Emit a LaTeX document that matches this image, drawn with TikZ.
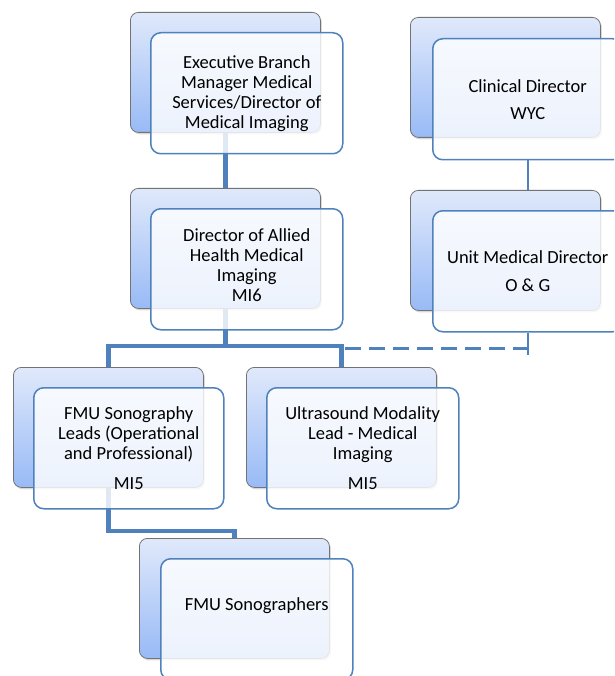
\documentclass[tikz,border=0pt]{standalone}
\usepackage{fontspec}
\setmainfont{Carlito}
\usepackage{tikz}
\usetikzlibrary{positioning, shadows, backgrounds, calc}

\definecolor{linkblue}{RGB}{79,129,189}
\definecolor{shadetop}{RGB}{224,233,251}
\definecolor{shadebot}{RGB}{152,186,246}
\newcommand\orgfont{\fontsize{18.5}{20}\selectfont}

\begin{document}
\begin{tikzpicture}[x=1pt, y=-1pt,
  backbox/.style={draw=gray!90!black, line width=0.8pt, rounded corners=8pt, top color=shadetop, bottom color=shadebot, minimum width=190pt, minimum height=120pt, anchor=north west, drop shadow={shadow xshift=1.5pt, shadow yshift=-2pt, opacity=0.3}},
  frontbox/.style={draw=linkblue, line width=1.5pt, rounded corners=10pt, fill=white, fill opacity=0.82, minimum width=192pt, minimum height=121pt, anchor=north west},
  nametext/.style={align=center, font=\orgfont, text=black},
  link/.style={draw=linkblue, line width=4.5pt},
  thinlink/.style={draw=linkblue, line width=1.5pt},
  dashlink/.style={draw=linkblue, line width=3.2pt, dash pattern=on 16pt off 8pt}]

  \useasboundingbox (0,0) rectangle (614,676);
  \clip (0,0) rectangle (614,676);

  % left hierarchy
  \node[backbox] (execB) at (130,12) {};
  \node[frontbox] (execF) at (150,32) {};
  \node[nametext] (execT) at (execF.center) {Executive Branch\\Manager Medical\\Services/Director of\\Medical Imaging};

  \node[backbox] (alliedB) at (130,188) {};
  \node[frontbox] (alliedF) at (150,208) {};
  \node[nametext] (alliedT) at ($(alliedF.center)+(0,-4.5)$) {Director of Allied\\Health Medical\\Imaging\\MI6};

  \node[backbox] (fmulB) at (13,367) {};
  \node[frontbox, minimum width=190pt] (fmulF) at (33,387) {};
  \node[nametext] (fmulT) at (fmulF.center) {FMU Sonography\\Leads (Operational\\and Professional)\\[10pt]MI5};

  \node[backbox] (usmlB) at (246,367) {};
  \node[frontbox] (usmlF) at (266,387) {};
  \node[nametext] (usmlT) at (usmlF.center) {Ultrasound Modality\\Lead - Medical\\Imaging\\[10pt]MI5};

  \node[backbox] (sonoB) at (139,538) {};
  \node[frontbox] (sonoF) at (160,558) {};
  \node[nametext] (sonoT) at ($(sonoF.center)+(0,-13.5)$) {FMU Sonographers};

  % right hierarchy
  \node[backbox] (clinB) at (410,17) {};
  \node[frontbox, minimum width=190pt] (clinF) at (432,38) {};
  \node[nametext] (clinT) at (clinF.center) {Clinical Director\\[7pt]WYC};

  \node[backbox] (unitB) at (410,190) {};
  \node[frontbox, minimum width=190pt] (unitF) at (432,210) {};
  \node[nametext] (unitT) at (unitF.center) {Unit Medical Director\\[8pt]O \& G};

  \coordinate (bus) at ($(alliedB.south)+(0,37)$);
  \coordinate (elbow) at ($(fmulB.south)+(0,43)$);
  \coordinate (unitTail) at ($(unitF.south)+(0,22)$);
  \coordinate (dashL) at ($(bus)+(120,3)$);
  \coordinate (dashR) at (dashL -| unitF.south);

  \begin{scope}[on background layer]
    \draw[link] (execB.south) -- (alliedB.north);
    \draw[link] (alliedB.south) -- (bus) -| (fmulB.north);
    \draw[link] (bus) -| (usmlB.north);
    \draw[link] (fmulB.south) -- (elbow) -| (sonoB.north);
    \draw[thinlink] (clinF.south) -- (unitF.north);
    \draw[thinlink] (unitF.south) -- (unitTail);
    \draw[dashlink] (dashL) -- (dashR);
  \end{scope}
\end{tikzpicture}
\end{document}
